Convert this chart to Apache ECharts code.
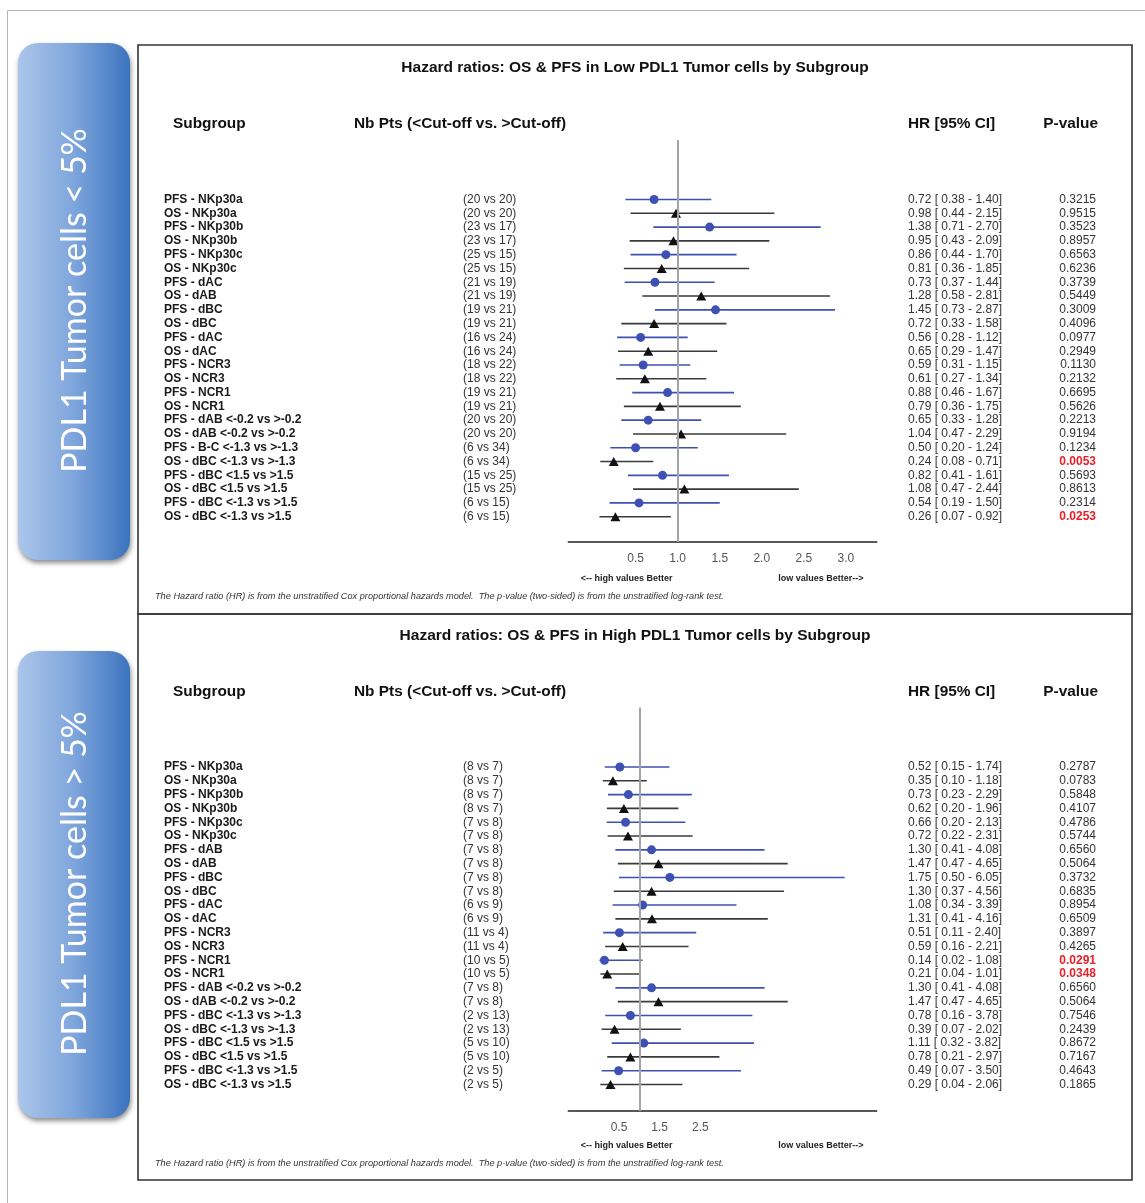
<!DOCTYPE html>
<html>
<head>
<meta charset="utf-8">
<title>Hazard ratios by subgroup</title>
<script src="https://cdn.jsdelivr.net/npm/echarts@6/dist/echarts.min.js"></script>
<style>
  html, body { margin: 0; padding: 0; background: #ffffff; }
  #chart { width: 1145px; height: 1203px; }
</style>
</head>
<body>
<div id="chart"></div>
<script>
// ---------- Low PDL1 tumor cells (< 5%) ----------
const lowLabels = [
  'PFS - NKp30a', 'OS - NKp30a', 'PFS - NKp30b', 'OS - NKp30b',
  'PFS - NKp30c', 'OS - NKp30c', 'PFS - dAC', 'OS - dAB',
  'PFS - dBC', 'OS - dBC', 'PFS - dAC', 'OS - dAC',
  'PFS - NCR3', 'OS - NCR3', 'PFS - NCR1', 'OS - NCR1',
  'PFS - dAB <-0.2 vs >-0.2', 'OS - dAB <-0.2 vs >-0.2',
  'PFS - B-C <-1.3 vs >-1.3', 'OS - dBC <-1.3 vs >-1.3',
  'PFS - dBC <1.5 vs >1.5', 'OS - dBC <1.5 vs >1.5',
  'PFS - dBC <-1.3 vs >1.5', 'OS - dBC <-1.3 vs >1.5'
];
const lowCounts = [
  '(20 vs 20)', '(20 vs 20)', '(23 vs 17)', '(23 vs 17)', '(25 vs 15)', '(25 vs 15)',
  '(21 vs 19)', '(21 vs 19)', '(19 vs 21)', '(19 vs 21)', '(16 vs 24)', '(16 vs 24)',
  '(18 vs 22)', '(18 vs 22)', '(19 vs 21)', '(19 vs 21)', '(20 vs 20)', '(20 vs 20)',
  '(6 vs 34)', '(6 vs 34)', '(15 vs 25)', '(15 vs 25)', '(6 vs 15)', '(6 vs 15)'
];
const lowHR    = [0.72, 0.98, 1.38, 0.95, 0.86, 0.81, 0.73, 1.28, 1.45, 0.72, 0.56, 0.65,
                  0.59, 0.61, 0.88, 0.79, 0.65, 1.04, 0.50, 0.24, 0.82, 1.08, 0.54, 0.26];
const lowLower = [0.38, 0.44, 0.71, 0.43, 0.44, 0.36, 0.37, 0.58, 0.73, 0.33, 0.28, 0.29,
                  0.31, 0.27, 0.46, 0.36, 0.33, 0.47, 0.20, 0.08, 0.41, 0.47, 0.19, 0.07];
const lowUpper = [1.40, 2.15, 2.70, 2.09, 1.70, 1.85, 1.44, 2.81, 2.87, 1.58, 1.12, 1.47,
                  1.15, 1.34, 1.67, 1.75, 1.28, 2.29, 1.24, 0.71, 1.61, 2.44, 1.50, 0.92];
const lowP     = [0.3215, 0.9515, 0.3523, 0.8957, 0.6563, 0.6236, 0.3739, 0.5449, 0.3009, 0.4096, 0.0977, 0.2949,
                  0.1130, 0.2132, 0.6695, 0.5626, 0.2213, 0.9194, 0.1234, 0.0053, 0.5693, 0.8613, 0.2314, 0.0253];
const lowTicks = [0.5, 1.0, 1.5, 2.0, 2.5, 3.0];

// ---------- High PDL1 tumor cells (> 5%) ----------
const highLabels = [
  'PFS - NKp30a', 'OS - NKp30a', 'PFS - NKp30b', 'OS - NKp30b',
  'PFS - NKp30c', 'OS - NKp30c', 'PFS - dAB', 'OS - dAB',
  'PFS - dBC', 'OS - dBC', 'PFS - dAC', 'OS - dAC',
  'PFS - NCR3', 'OS - NCR3', 'PFS - NCR1', 'OS - NCR1',
  'PFS - dAB <-0.2 vs >-0.2', 'OS - dAB <-0.2 vs >-0.2',
  'PFS - dBC <-1.3 vs >-1.3', 'OS - dBC <-1.3 vs >-1.3',
  'PFS - dBC <1.5 vs >1.5', 'OS - dBC <1.5 vs >1.5',
  'PFS - dBC <-1.3 vs >1.5', 'OS - dBC <-1.3 vs >1.5'
];
const highCounts = [
  '(8 vs 7)', '(8 vs 7)', '(8 vs 7)', '(8 vs 7)', '(7 vs 8)', '(7 vs 8)',
  '(7 vs 8)', '(7 vs 8)', '(7 vs 8)', '(7 vs 8)', '(6 vs 9)', '(6 vs 9)',
  '(11 vs 4)', '(11 vs 4)', '(10 vs 5)', '(10 vs 5)', '(7 vs 8)', '(7 vs 8)',
  '(2 vs 13)', '(2 vs 13)', '(5 vs 10)', '(5 vs 10)', '(2 vs 5)', '(2 vs 5)'
];
const highHR    = [0.52, 0.35, 0.73, 0.62, 0.66, 0.72, 1.30, 1.47, 1.75, 1.30, 1.08, 1.31,
                   0.51, 0.59, 0.14, 0.21, 1.30, 1.47, 0.78, 0.39, 1.11, 0.78, 0.49, 0.29];
const highLower = [0.15, 0.10, 0.23, 0.20, 0.20, 0.22, 0.41, 0.47, 0.50, 0.37, 0.34, 0.41,
                   0.11, 0.16, 0.02, 0.04, 0.41, 0.47, 0.16, 0.07, 0.32, 0.21, 0.07, 0.04];
const highUpper = [1.74, 1.18, 2.29, 1.96, 2.13, 2.31, 4.08, 4.65, 6.05, 4.56, 3.39, 4.16,
                   2.40, 2.21, 1.08, 1.01, 4.08, 4.65, 3.78, 2.02, 3.82, 2.97, 3.50, 2.06];
const highP     = [0.2787, 0.0783, 0.5848, 0.4107, 0.4786, 0.5744, 0.6560, 0.5064, 0.3732, 0.6835, 0.8954, 0.6509,
                   0.3897, 0.4265, 0.0291, 0.0348, 0.6560, 0.5064, 0.7546, 0.2439, 0.8672, 0.7167, 0.4643, 0.1865];
const highTicks = [0.5, 1.5, 2.5];

// ---------- styling / layout ----------
const FONT = '"Liberation Sans", Arial, Helvetica, sans-serif';
const PFS_COLOR = '#3e51b2';
const OS_COLOR = '#111111';
const OS_LINE = '#3a3a3a';

const panels = [
  {
    title: 'Hazard ratios: OS & PFS in Low PDL1 Tumor cells by Subgroup',
    side: 'PDL1 Tumor cells < 5%',
    labels: lowLabels, counts: lowCounts, hr: lowHR, lo: lowLower, hi: lowUpper, p: lowP, ticks: lowTicks,
    box: { y: 45, h: 569 }, sideBox: { y: 43, h: 517 },
    titleY: 68, headY: 124, gridTop: 140, gridBottom: 542, firstRow: 199.5, lastRow: 516.7,
    xMin: -0.30, xMax: 3.366, noteY: 579, footY: 596
  },
  {
    title: 'Hazard ratios: OS & PFS in High PDL1 Tumor cells by Subgroup',
    side: 'PDL1 Tumor cells > 5%',
    labels: highLabels, counts: highCounts, hr: highHR, lo: highLower, hi: highUpper, p: highP, ticks: highTicks,
    box: { y: 614, h: 566 }, sideBox: { y: 651, h: 467 },
    titleY: 636, headY: 692, gridTop: 707.5, gridBottom: 1111, firstRow: 767, lastRow: 1084.5,
    xMin: -0.748, xMax: 6.839, noteY: 1146, footY: 1163
  }
];

const GRID_LEFT = 568.3, GRID_RIGHT = 876.7;
const COL_LABEL = 164, COL_COUNT = 463, COL_HR = 908, COL_P = 1096;

const grids = [], xAxes = [], yAxes = [], series = [], graphics = [];

// page frame
graphics.push({
  type: 'rect', z: 0, silent: true,
  shape: { x: 7.5, y: 10.5, width: 1200, height: 1300 },
  style: { fill: 'none', stroke: '#b4b4b4', lineWidth: 1 }
});

function txt(x, y, text, size, weight, align, color, extra) {
  return Object.assign({
    type: 'text', x: x, y: y, silent: true, z: 10,
    style: {
      text: text, fill: color || '#111',
      font: (extra && extra.italic ? 'italic ' : '') + (weight || 'normal') + ' ' + size + 'px ' + FONT,
      textAlign: align || 'left', textVerticalAlign: 'middle'
    }
  }, extra && extra.el ? extra.el : {});
}

const fmt2 = v => v.toFixed(2);

panels.forEach((pn, i) => {
  const n = pn.labels.length;
  const step = (pn.lastRow - pn.firstRow) / (n - 1);
  const yMin = -(pn.firstRow - pn.gridTop) / step;
  const yMax = (n - 1) + (pn.gridBottom - pn.lastRow) / step;

  grids.push({
    left: GRID_LEFT, top: pn.gridTop,
    width: GRID_RIGHT - GRID_LEFT, height: pn.gridBottom - pn.gridTop,
    containLabel: false, outerBoundsMode: 'none'
  });
  xAxes.push({
    gridIndex: i, type: 'value', min: pn.xMin, max: pn.xMax,
    axisLine: { show: true, onZero: false, lineStyle: { color: '#222', width: 1.5 } },
    axisTick: { show: false },
    splitLine: { show: false },
    axisLabel: {
      customValues: pn.ticks, formatter: v => v.toFixed(1),
      color: '#555', fontSize: 12, fontFamily: FONT, margin: 11
    }
  });
  yAxes.push({ gridIndex: i, type: 'value', inverse: true, min: yMin, max: yMax, show: false });

  const isPFS = pn.labels.map(l => l.indexOf('PFS') === 0);

  // reference line at HR = 1
  series.push({
    type: 'scatter', xAxisIndex: i, yAxisIndex: i, data: [], z: 1, silent: true,
    markLine: {
      silent: true, symbol: ['none', 'none'], label: { show: false },
      lineStyle: { color: '#a3a3a3', width: 2, type: 'solid' },
      emphasis: { disabled: true },
      data: [{ xAxis: 1 }]
    }
  });

  // confidence interval whiskers
  series.push({
    type: 'custom', xAxisIndex: i, yAxisIndex: i, z: 2, silent: true,
    data: pn.labels.map((_, k) => [pn.lo[k], pn.hi[k], k, isPFS[k] ? 1 : 0]),
    encode: { x: [0, 1], y: 2 },
    renderItem: (params, api) => {
      const a = api.coord([api.value(0), api.value(2)]);
      const b = api.coord([api.value(1), api.value(2)]);
      return {
        type: 'line',
        shape: { x1: a[0], y1: a[1], x2: b[0], y2: b[1] },
        style: { stroke: api.value(3) ? PFS_COLOR : OS_LINE, lineWidth: 1.6 }
      };
    }
  });

  // point estimates
  series.push({
    type: 'scatter', xAxisIndex: i, yAxisIndex: i, z: 3, silent: true,
    symbol: 'circle', symbolSize: 9,
    itemStyle: { color: PFS_COLOR, opacity: 1 },
    data: pn.hr.map((v, k) => [v, k]).filter((_, k) => isPFS[k])
  });
  series.push({
    type: 'scatter', xAxisIndex: i, yAxisIndex: i, z: 3, silent: true,
    symbol: 'triangle', symbolSize: [10, 9],
    itemStyle: { color: OS_COLOR, opacity: 1 },
    data: pn.hr.map((v, k) => [v, k]).filter((_, k) => !isPFS[k])
  });

  // table columns: subgroup, patient counts, HR [95% CI], p-value
  series.push({
    type: 'custom', xAxisIndex: i, yAxisIndex: i, z: 4, silent: true, clip: false,
    data: pn.labels.map((_, k) => [pn.hr[k], k]),
    encode: { x: 0, y: 1 },
    renderItem: (params, api) => {
      const k = api.value(1);
      const y = api.coord([api.value(0), k])[1];
      const sig = pn.p[k] < 0.05;
      const t = (x, text, font, fill, align) => ({
        type: 'text', x: x, y: y,
        style: { text: text, font: font, fill: fill, textAlign: align, textVerticalAlign: 'middle' }
      });
      return {
        type: 'group',
        children: [
          t(COL_LABEL, pn.labels[k], 'bold 12px ' + FONT, '#1a1a1a', 'left'),
          t(COL_COUNT, pn.counts[k], '12px ' + FONT, '#333', 'left'),
          t(COL_HR, fmt2(pn.hr[k]) + ' [ ' + fmt2(pn.lo[k]) + ' - ' + fmt2(pn.hi[k]) + ']', '12px ' + FONT, '#333', 'left'),
          t(COL_P, pn.p[k].toFixed(4), (sig ? 'bold ' : '') + '12px ' + FONT, sig ? '#e8202a' : '#333', 'right')
        ]
      };
    }
  });

  // panel frame
  graphics.push({
    type: 'rect', z: 1, silent: true,
    shape: { x: 138, y: pn.box.y, width: 994, height: pn.box.h },
    style: { fill: 'none', stroke: '#333', lineWidth: 1.6 }
  });

  // side tab with rotated caption
  graphics.push({
    type: 'rect', z: 2, silent: true,
    shape: { x: 18, y: pn.sideBox.y, width: 112, height: pn.sideBox.h, r: 20 },
    style: {
      fill: new echarts.graphic.LinearGradient(0, 0, 1, 0, [
        { offset: 0, color: '#abc6ea' },
        { offset: 0.5, color: '#7ea5dc' },
        { offset: 1, color: '#3b73be' }
      ]),
      shadowBlur: 5, shadowOffsetX: 1, shadowOffsetY: 3, shadowColor: 'rgba(0,0,0,0.45)'
    }
  });
  graphics.push({
    type: 'text', z: 3, silent: true,
    x: 75, y: pn.sideBox.y + pn.sideBox.h / 2 - 1, rotation: Math.PI / 2,
    style: {
      text: pn.side, fill: '#ffffff',
      font: 'normal 34px Lato, "Open Sans", sans-serif',
      textAlign: 'center', textVerticalAlign: 'middle'
    }
  });

  // titles, headers, notes
  graphics.push(txt(635, pn.titleY, pn.title, 15.5, 'bold', 'center', '#111'));
  graphics.push(txt(173, pn.headY, 'Subgroup', 15.4, 'bold', 'left', '#111'));
  graphics.push(txt(354, pn.headY, 'Nb Pts (<Cut-off vs. >Cut-off)', 15.4, 'bold', 'left', '#111'));
  graphics.push(txt(908, pn.headY, 'HR [95% CI]', 15.4, 'bold', 'left', '#111'));
  graphics.push(txt(1098, pn.headY, 'P-value', 15.4, 'bold', 'right', '#111'));
  graphics.push(txt(580.7, pn.noteY, '<-- high values Better', 9, 'bold', 'left', '#222'));
  graphics.push(txt(778.3, pn.noteY, 'low values Better-->', 9, 'bold', 'left', '#222'));
  graphics.push(txt(155, pn.footY,
    'The Hazard ratio (HR) is from the unstratified Cox proportional hazards model.  The p-value (two-sided) is from the unstratified log-rank test.',
    9.2, 'normal', 'left', '#333', { italic: true }));
});

const chart = echarts.init(document.getElementById('chart'), null, { renderer: 'canvas' });
chart.setOption({
  backgroundColor: '#ffffff',
  animation: false,
  grid: grids,
  xAxis: xAxes,
  yAxis: yAxes,
  series: series,
  graphic: { elements: graphics }
});
</script>
</body>
</html>
